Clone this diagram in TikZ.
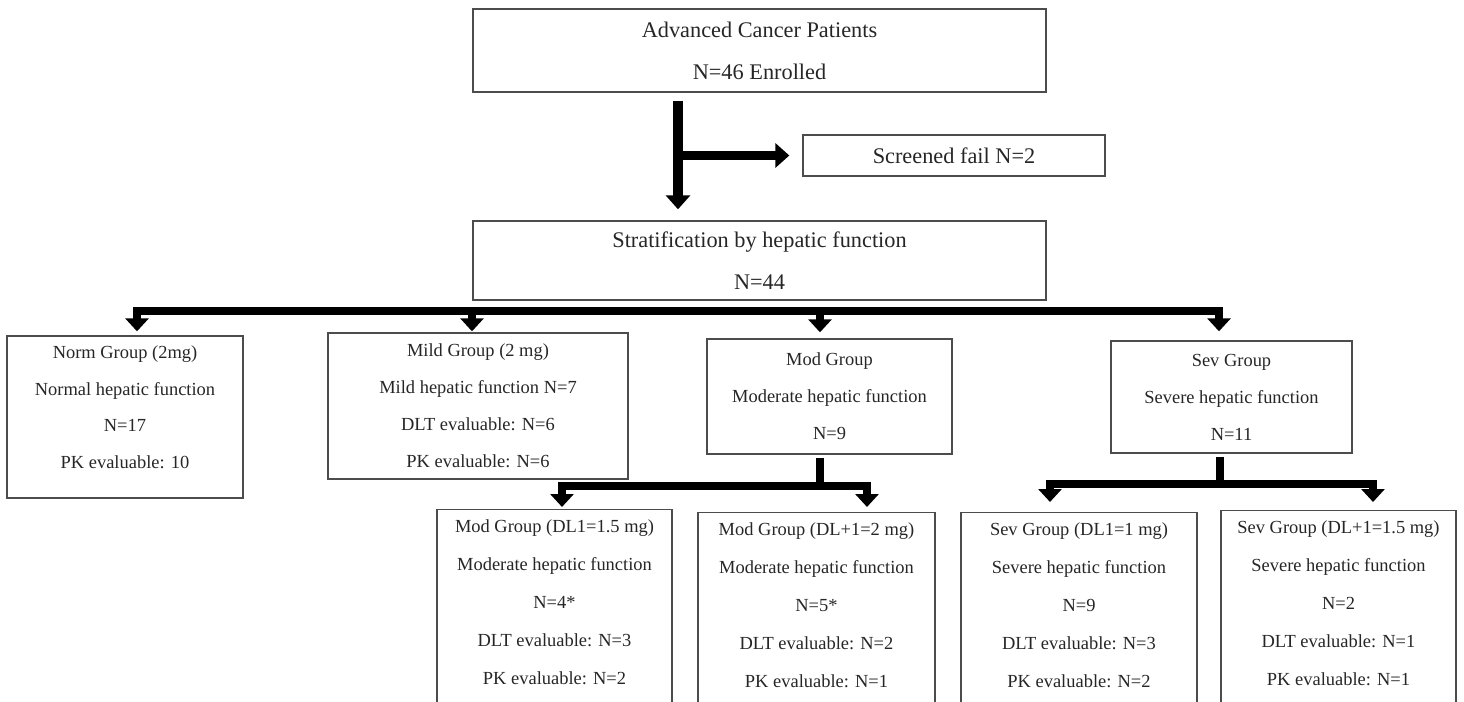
\documentclass[tikz,border=0pt]{standalone}
\usepackage{fontspec}
\setmainfont{Liberation Serif}
\usetikzlibrary{arrows.meta}
\tikzset{
  box/.style={draw=black!70, line width=0.8pt, align=center, text=black!85, inner sep=0pt},
  big/.style={box, font=\fontsize{12.7}{23.9}\selectfont},
  small/.style={box, font=\fontsize{10.5}{21}\selectfont},
  leaf/.style={box, font=\fontsize{10.5}{21.6}\selectfont, anchor=north, inner ysep=0.2cm},
  fat/.style={line width=0.19cm, -{Triangle[width=0.48cm,length=0.28cm]}},
  bus/.style={line width=0.17cm, line cap=rect},
  stem/.style={line width=0.17cm},
  drop/.style={line width=0.17cm, -{Triangle[width=0.46cm,length=0.26cm]}}
}
\begin{document}
\begin{tikzpicture}[x=0.02cm, y=-0.02cm]
\useasboundingbox (0,0) rectangle (1464,702);
\clip (0,0) rectangle (1464,702);
% enrolment
\node[big, minimum width=11.46cm, minimum height=1.66cm] (top) at (759.5,50.5) {Advanced Cancer Patients\\N=46 Enrolled};
\node[big, minimum width=6.04cm, minimum height=0.82cm] (fail) at (954,155.5) {Screened fail N=2};
\node[big, minimum width=11.46cm, minimum height=1.58cm] (strat) at (759.5,260.5) {Stratification by hepatic function\\N=44};
\coordinate (s1) at (678,155.5);
\draw[fat, shorten <=0.16cm, shorten >=0.22cm] (top.south -| s1) -- (strat.north -| s1);
\draw[fat, shorten >=0.26cm] (s1) -- (fail.west);
% groups
\node[small, minimum width=4.72cm, minimum height=3.24cm] (norm) at (125,417) {Norm Group (2mg)\\Normal hepatic function\\N=17\\PK evaluable: 10\\[-9.7pt]\mbox{}};
\node[small, minimum width=6cm, minimum height=2.92cm] (mild) at (478,406) {Mild Group (2 mg)\\Mild hepatic function N=7\\DLT evaluable: N=6\\PK evaluable: N=6};
\node[small, minimum width=4.9cm, minimum height=2.3cm] (mod) at (829.5,396.5) {Mod Group\\Moderate hepatic function\\N=9};
\node[small, minimum width=4.82cm, minimum height=2.24cm] (sev) at (1231.5,397) {Sev Group\\Severe hepatic function\\N=11};
\coordinate (tn) at (137,311);
\coordinate (tm) at (472,311);
\coordinate (to) at (820,311);
\coordinate (tv) at (1219,311);
\draw[bus] (tn) -- (tv);
\draw[drop, shorten >=0.08cm] (tn) -- (tn |- norm.north);
\draw[drop, shorten >=0.02cm] (tm) -- (tm |- mild.north);
\draw[drop, shorten >=0.12cm] (to) -- (to |- mod.north);
\draw[drop, shorten >=0.18cm] (tv) -- (tv |- sev.north);
% dose levels
\node[leaf, minimum width=4.7cm] (modA) at (554.5,509) {Mod Group (DL1=1.5 mg)\\Moderate hepatic function\\N=4*\\DLT evaluable: N=3\\PK evaluable: N=2\\\mbox{}};
\node[leaf, minimum width=4.74cm] (modB) at (816.5,512) {Mod Group (DL+1=2 mg)\\Moderate hepatic function\\N=5*\\DLT evaluable: N=2\\PK evaluable: N=1\\\mbox{}};
\node[leaf, minimum width=4.72cm] (sevA) at (1079,512) {Sev Group (DL1=1 mg)\\Severe hepatic function\\N=9\\DLT evaluable: N=3\\PK evaluable: N=2\\\mbox{}};
\node[leaf, minimum width=4.7cm] (sevB) at (1338.5,510) {Sev Group (DL+1=1.5 mg)\\Severe hepatic function\\N=2\\DLT evaluable: N=1\\PK evaluable: N=1\\\mbox{}};
\coordinate (mj) at (820,486);
\coordinate (ma) at (562,486);
\coordinate (mb) at (867,486);
\draw[stem, shorten <=0.06cm] (mod.south -| mj) -- (mj);
\draw[bus] (ma) -- (mb);
\draw[drop, shorten >=0.04cm] (ma) -- (ma |- modA.north);
\draw[drop, shorten >=0.1cm] (mb) -- (mb |- modB.north);
\coordinate (vj) at (1220,484);
\coordinate (va) at (1050,484);
\coordinate (vb) at (1373,484);
\draw[stem, shorten <=0.06cm] (sev.south -| vj) -- (vj);
\draw[bus] (va) -- (vb);
\draw[drop, shorten >=0.2cm] (va) -- (va |- sevA.north);
\draw[drop, shorten >=0.16cm] (vb) -- (vb |- sevB.north);
\end{tikzpicture}
\end{document}
